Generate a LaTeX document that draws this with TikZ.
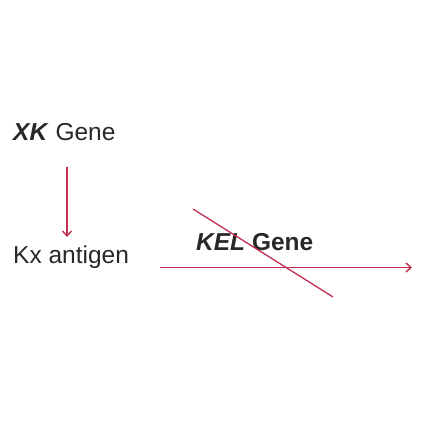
\documentclass[tikz,border=0pt]{standalone}
\usepackage{fontspec}
\setmainfont{Liberation Sans}
\usetikzlibrary{arrows.meta}
\definecolor{linered}{RGB}{195,45,80}
\definecolor{txt}{RGB}{40,40,40}
\tikzset{
  lbl/.style={inner sep=0pt, anchor=base west, text=txt, font=\fontsize{24.5}{28}\selectfont},
  conn/.style={color=linered, line width=1.4pt, -{Straight Barb[length=5pt,width=9pt]}},
  cross/.style={color=linered, line width=1.3pt}
}
\begin{document}
\begin{tikzpicture}[x=1pt,y=1pt]
\useasboundingbox (0,0) rectangle (423,423);
% y values are 423 minus pixel row
\node[lbl] (xk) at (13,282) {\textbf{\textit{XK}} Gene};
\node[lbl] (kx) at (13,159) {Kx antigen};
\node[lbl] (kel) at (196,172) {\textbf{\textit{KEL}} \textbf{Gene}};
\coordinate (vtop) at (67,256);
\coordinate (vbot) at (67,186);
\coordinate (hs) at (160,155.5);
\coordinate (he) at (412,155.5);
\coordinate (c1) at (193,214);
\coordinate (c2) at (333,126);
\draw[conn] (vtop) -- (vbot);
\draw[conn] (hs) -- (he);
\draw[cross] (c1) -- (c2);
\end{tikzpicture}
\end{document}
